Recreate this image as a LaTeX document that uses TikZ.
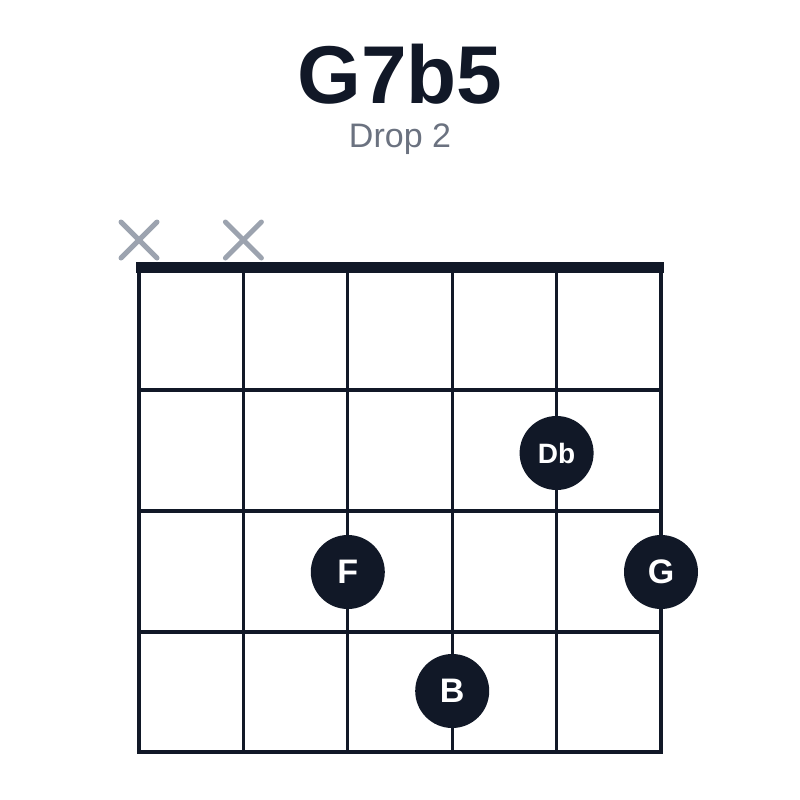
\documentclass[tikz,border=0pt]{standalone}
\usepackage{fontspec}
\setmainfont{Liberation Sans}
\usetikzlibrary{positioning,calc}
\definecolor{ink}{HTML}{111827}
\definecolor{mutegray}{HTML}{9CA3AF}
\definecolor{subgray}{HTML}{6B7280}

\begin{document}
\begin{tikzpicture}[x=1pt, y=-1pt]
\tikzstyle{every node}=[inner sep=0pt]
\tikzstyle{fingerdot}=[circle, fill=ink, minimum size=74pt, text=white, font=\bfseries\fontsize{34}{34}\selectfont]
\tikzstyle{gridline}=[draw=ink, line width=3.2pt, line cap=rect]
\tikzstyle{muted}=[draw=mutegray, line width=5pt, line cap=round]
\useasboundingbox (0,0) rectangle (800,800);
\node[font=\bfseries\fontsize{82}{82}\selectfont, text=ink, anchor=base] (title) at (400,103) {G7b5};
\node[font=\fontsize{34}{34}\selectfont, text=subgray, anchor=base] (sub) at (400,147) {Drop 2};
% strings
\foreach \s in {0,...,5} {
  \coordinate (top\s) at ({139+104.4*\s},268);
  \coordinate (bot\s) at ({139+104.4*\s},752);
  \draw[gridline] (top\s) -- (bot\s);
}
% frets
\foreach \f/\y in {1/390,2/511,3/632,4/752} {
  \coordinate (fl\f) at (139,\y);
  \coordinate (fr\f) at (661,\y);
  \draw[gridline] (fl\f) -- (fr\f);
}
% nut
\coordinate (nutL) at (136,267.5);
\coordinate (nutR) at (664,267.5);
\draw[ink, line width=11pt] (nutL) -- (nutR);
% muted strings
\foreach \s in {0,1} {
  \coordinate (mute\s) at ($(top\s)+(0,-28)$);
  \draw[muted] ($(mute\s)+(-18,-18)$) -- ($(mute\s)+(18,18)$);
  \draw[muted] ($(mute\s)+(-18,18)$) -- ($(mute\s)+(18,-18)$);
}
% fingers
\node[fingerdot, font=\bfseries\fontsize{28}{28}\selectfont] (db) at ($(top4)+(0,185)$) {Db};
\node[fingerdot] (f) at ($(top2)+(0,304)$) {F};
\node[fingerdot] (g) at ($(top5)+(0,304)$) {G};
\node[fingerdot] (b) at ($(top3)+(0,423)$) {B};
\end{tikzpicture}
\end{document}
